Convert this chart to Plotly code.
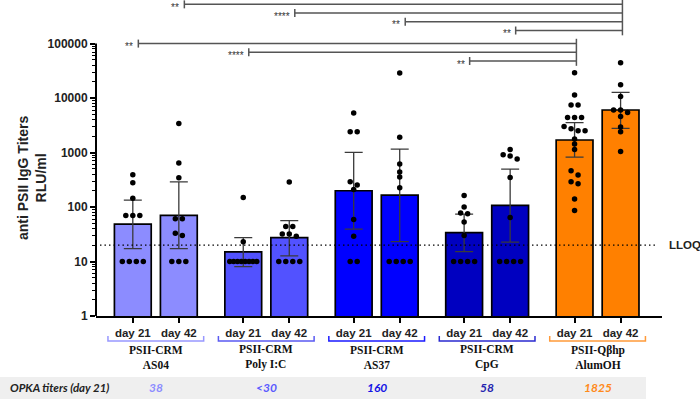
import numpy as np
import plotly.graph_objects as go

# ---------------- data ----------------
groups = ["PSII-CRM<br>AS04", "PSII-CRM<br>Poly I:C", "PSII-CRM<br>AS37",
          "PSII-CRM<br>CpG", "PSII-Qβhp<br>AlumOH"]
days = ["day 21", "day 42"]
opka_titers = ["38", "<30", "160", "58", "1825"]

# geometric means and 95% CI (one value per bar, order: group x day)
geo_mean = [48.5, 70, 15, 27.5, 199, 165, 34, 107, 1700, 6040]
ci_high = [134, 290, 27.5, 56.5, 1004, 1160, 74, 497, 3530, 12700]
ci_low = [17.3, 17.3, 8.07, 12.7, 39.2, 23.2, 15.2, 22.6, 826, 2770]

as04_d21 = [390, 280, 145, 70, 70, 70, 10, 10, 10, 10]
as04_d42 = [3430, 640, 345, 61, 61, 33, 30, 10, 10, 10]
poly_d21 = [150, 23, 10, 10, 10, 10, 10, 10, 10, 10]
poly_d42 = [287, 44, 44, 32, 32, 29, 10, 10, 10, 10]
as37_d21 = [5300, 2400, 2400, 290, 253, 210, 59, 29, 10, 10]
as37_d42 = [29000, 1900, 615, 440, 355, 225, 10, 10, 10, 10]
cpg_d21 = [163, 100, 78, 75, 53, 30, 10, 10, 10, 10]
cpg_d42 = [1140, 910, 860, 760, 350, 64, 10, 10, 10, 10]
qb_d21 = [29300, 11400, 7460, 7460, 4420, 4420, 4420, 3020, 2740, 2520,
          2520, 1770, 1430, 1140, 463, 386, 290, 267, 141, 86]
qb_d42 = [44600, 17600, 10700, 6040, 6040, 5460, 4610, 2940, 2410, 1050]
points = [as04_d21, as04_d42, poly_d21, poly_d42, as37_d21, as37_d42,
          cpg_d21, cpg_d42, qb_d21, qb_d42]

lloq = 20
# (bar index, compared-to bar index, label)
comparisons = [(0, 8, "**"), (2, 8, "****"), (6, 8, "**"),
               (1, 9, "**"), (3, 9, "****"), (5, 9, "**"), (7, 9, "**")]

y_tickvals = [1, 10, 100, 1000, 10000, 100000]
y_ticktext = ["1", "10", "100", "1000", "10000", "100000"]

# ---------------- styles / layout ----------------
bar_colors = ["#8C8CFF", "#5252FF", "#0000FF", "#0000C0", "#FF8000"]
bracket_colors = ["#9898FF", "#5A5AF2", "#1A1AFF", "#2A2AD0", "#FF9A3A"]
opka_colors = ["#8C8CFF", "#5A5AFF", "#1414E6", "#2424B0", "#FF8A1A"]

W, H = 700, 401
ML, MR, MT, MB = 96, 38, 0, 85
XR = (-0.8, 11.5)
YR = (0.0, 5.8)
plot_w = W - ML - MR
plot_h = H - MT - MB
px_x = plot_w / (XR[1] - XR[0])
px_y = plot_h / (YR[1] - YR[0])

positions = [g * 2.4 + d for g in range(len(groups)) for d in range(2)]
group_centers = [g * 2.4 + 0.5 for g in range(len(groups))]
bar_fill = [bar_colors[i // 2] for i in range(len(positions))]


def xpaper(u):
    return (u - XR[0]) / (XR[1] - XR[0])


def ypaper(py):
    return (plot_h - py) / plot_h


def swarm(vals, center, thr_px=4.5, sp_px=7.0, maxw_px=27.0):
    lv = sorted(np.log10(vals), reverse=True)
    rows = []
    for v in lv:
        if rows and (rows[-1][0] - v) * px_y <= thr_px:
            rows[-1].append(v)
        else:
            rows.append([v])
    xs, ys = [], []
    for r in rows:
        n = len(r)
        sp = sp_px if n < 2 else min(sp_px, maxw_px / (n - 1))
        for k, v in enumerate(r):
            xs.append(center + (k - (n - 1) / 2) * sp / px_x)
            ys.append(10 ** v)
    return xs, ys


fig = go.Figure()
fig.add_trace(go.Bar(
    x=positions, y=geo_mean, width=0.8,
    marker=dict(color=bar_fill, line=dict(color="black", width=1.7)),
    error_y=dict(type="data", symmetric=False,
                 array=[h - m for h, m in zip(ci_high, geo_mean)],
                 arrayminus=[m - l for m, l in zip(geo_mean, ci_low)],
                 color="#3a3a3a", thickness=1.3, width=9),
    hoverinfo="skip"))

sx, sy = [], []
for p, vals in zip(positions, points):
    xs, ys = swarm(vals, p)
    sx += xs
    sy += ys
fig.add_trace(go.Scatter(x=sx, y=sy, mode="markers",
                         marker=dict(color="black", size=5.5), hoverinfo="skip"))

shapes = []
# y axis line (1 .. 100000)
shapes.append(dict(type="line", xref="paper", yref="y", x0=0, x1=0,
                   y0=y_tickvals[0], y1=y_tickvals[-1],
                   line=dict(color="black", width=2)))
# LLOQ
shapes.append(dict(type="line", xref="paper", yref="y", x0=0.007, x1=0.992,
                   y0=lloq, y1=lloq,
                   line=dict(color="black", width=1.3, dash="1.5px,3px")))

# significance brackets (levels in log10 units)
annotations = []
sig_col = "#555555"
tick_h = 4 / px_y
sets = {}
for c in comparisons:
    sets.setdefault(c[1], []).append(c)
set_top = {9: 5.72, 8: 5.0}
step = 0.16
for tgt, comps in sets.items():
    x_r = positions[tgt] + 0.04
    levels = []
    for i, (src, _, lab) in enumerate(comps):
        y = set_top[tgt] - i * step
        levels.append(y)
        x_l = positions[src] + 0.12
        shapes.append(dict(type="line", xref="x", yref="y", x0=x_l, x1=x_r,
                           y0=10 ** y, y1=10 ** y,
                           line=dict(color=sig_col, width=1.5)))
        shapes.append(dict(type="line", xref="x", yref="y", x0=x_l, x1=x_l,
                           y0=10 ** (y - tick_h), y1=10 ** (y + tick_h),
                           line=dict(color=sig_col, width=1.5)))
        annotations.append(dict(x=x_l, y=y, xref="x", yref="y", text=lab, showarrow=False,
                                xanchor="right", yanchor="middle", xshift=-3, yshift=-3,
                                font=dict(family="Liberation Sans", size=10, color="#333333")))
    shapes.append(dict(type="line", xref="x", yref="y", x0=x_r, x1=x_r,
                       y0=10 ** (min(levels) - 1.2 * tick_h),
                       y1=10 ** (max(levels) + 1.2 * tick_h),
                       line=dict(color=sig_col, width=1.5)))

# group brackets below axis
for g, gc in enumerate(group_centers):
    x0 = xpaper(gc - 1.04)
    x1 = xpaper(gc + 1.04)
    yb = ypaper(341 - MT)
    yu = ypaper(336 - MT)
    shapes.append(dict(type="path", xref="paper", yref="paper",
                       path=f"M {x0},{yu} L {x0},{yb} L {x1},{yb} L {x1},{yu}",
                       line=dict(color=bracket_colors[g], width=1.5)))
    annotations.append(dict(x=xpaper(gc), y=ypaper(357), xref="paper", yref="paper",
                            text=groups[g], showarrow=False, xanchor="center", yanchor="middle",
                            font=dict(family="Liberation Serif", size=11.5, color="#111111",
                                      weight="bold")))
    annotations.append(dict(x=xpaper(gc), y=ypaper(388), xref="paper", yref="paper",
                            text=opka_titers[g], showarrow=False, xanchor="center",
                            yanchor="middle",
                            font=dict(family="Lato", size=12, color=opka_colors[g],
                                      weight="bold", style="italic")))

# OPKA band
shapes.append(dict(type="rect", xref="paper", yref="paper", layer="below",
                   x0=(0 - ML) / plot_w, x1=(646 - ML) / plot_w,
                   y0=ypaper(399), y1=ypaper(377),
                   fillcolor="#EFEFEF", line=dict(width=0)))
annotations.append(dict(x=(8 - ML) / plot_w, y=ypaper(388), xref="paper", yref="paper",
                        text="OPKA titers (day 21)", showarrow=False, xanchor="left",
                        yanchor="middle",
                        font=dict(family="Lato", size=11.5, color="#222222",
                                  weight="bold", style="italic")))
# LLOQ label
annotations.append(dict(x=(667 - ML) / plot_w, y=np.log10(lloq), xref="paper", yref="y",
                        text="LLOQ", showarrow=False, xanchor="left", yanchor="middle",
                        font=dict(family="Liberation Sans", size=11.5, color="#222222",
                                  weight="bold")))
# y title
annotations.append(dict(x=(32 - ML) / plot_w, y=ypaper(178), xref="paper", yref="paper",
                        text="anti PSII IgG Titers<br>RLU/ml", showarrow=False,
                        textangle=-90, xanchor="center", yanchor="middle",
                        font=dict(family="Liberation Sans", size=14, color="#222222",
                                  weight="bold")))

minor_vals = [k * 10 ** d for d in range(5) for k in range(2, 10)]

fig.update_layout(
    width=W, height=H, margin=dict(l=ML, r=MR, t=MT, b=MB),
    paper_bgcolor="white", plot_bgcolor="white", showlegend=False,
    shapes=shapes, annotations=annotations,
    xaxis=dict(range=list(XR), showline=True, linecolor="black", linewidth=2,
               ticks="outside", ticklen=5, tickwidth=1.5, tickcolor="black",
               tickvals=positions, ticktext=[days[i % 2] for i in range(len(positions))],
               tickfont=dict(family="Liberation Sans", size=11.5, color="#222222",
                             weight="bold"),
               showgrid=False, zeroline=False, fixedrange=True),
    yaxis=dict(type="log", range=list(YR), showline=False,
               ticks="outside", ticklen=5, tickwidth=1.5, tickcolor="black",
               tickvals=y_tickvals, ticktext=y_ticktext,
               tickfont=dict(family="Liberation Sans", size=12, color="#222222",
                             weight="bold"),
               minor=dict(ticks="outside", ticklen=3, tickwidth=1, tickcolor="black",
                          tickvals=minor_vals, showgrid=False),
               showgrid=False, zeroline=False, fixedrange=True),
)

fig.write_html("out.html", config={"displayModeBar": False},
               post_script="document.body.style.margin='0';document.body.style.overflow='hidden';")
